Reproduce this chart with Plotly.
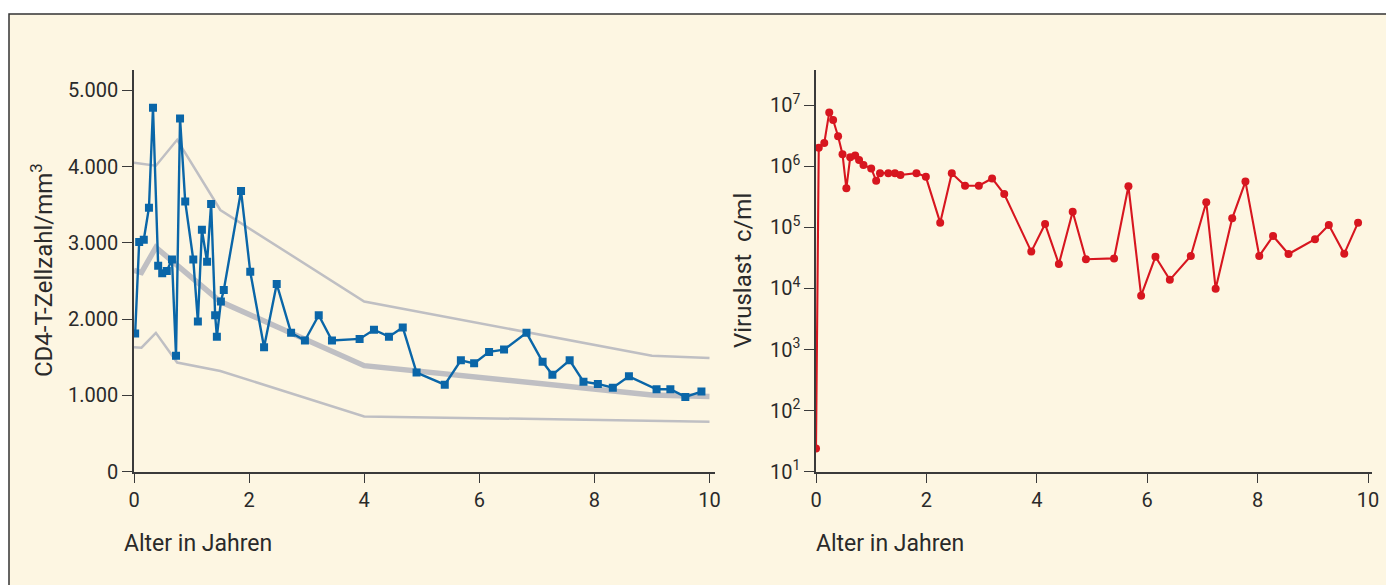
import plotly.graph_objects as go

# ---------------- data ----------------
ages_cd4 = [0.02, 0.09, 0.17, 0.26, 0.33, 0.42, 0.49, 0.57, 0.66, 0.73, 0.80, 0.89, 1.03, 1.11, 1.18,
            1.27, 1.34, 1.41, 1.44, 1.51, 1.56, 1.86, 2.02, 2.26, 2.48, 2.73, 2.97, 3.21, 3.44, 3.92,
            4.17, 4.43, 4.67, 4.91, 5.40, 5.68, 5.91, 6.17, 6.43, 6.82, 7.10, 7.27, 7.57, 7.81, 8.06,
            8.32, 8.60, 9.08, 9.32, 9.58, 9.86]
cd4 = [1810, 3010, 3040, 3460, 4770, 2700, 2600, 2630, 2780, 1520, 4630, 3540, 2780, 1970, 3170,
       2750, 3510, 2050, 1770, 2230, 2380, 3680, 2620, 1630, 2460, 1820, 1720, 2050, 1720, 1740,
       1860, 1770, 1890, 1300, 1140, 1460, 1420, 1570, 1600, 1820, 1440, 1270, 1460, 1180, 1150,
       1100, 1250, 1080, 1080, 980, 1050]

ages_upper = [0, 0.38, 0.75, 1.5, 4.0, 9.0, 10]
cd4_upper = [4050, 4010, 4350, 3430, 2230, 1520, 1490]
ages_median = [0, 0.13, 0.38, 1.5, 4.0, 9.0, 10]
cd4_median = [2640, 2610, 2940, 2230, 1390, 1005, 985]
ages_lower = [0, 0.13, 0.38, 0.75, 1.5, 4.0, 10]
cd4_lower = [1630, 1625, 1820, 1430, 1320, 725, 655]

ages_vl = [0, 0.05, 0.15, 0.24, 0.31, 0.40, 0.48, 0.55, 0.62, 0.71, 0.78, 0.86, 1.0, 1.09, 1.16,
           1.31, 1.43, 1.53, 1.82, 1.99, 2.25, 2.46, 2.70, 2.95, 3.19, 3.41, 3.90, 4.15, 4.40, 4.65,
           4.89, 5.40, 5.66, 5.89, 6.15, 6.41, 6.79, 7.07, 7.24, 7.54, 7.78, 8.03, 8.28, 8.56, 9.04,
           9.29, 9.57, 9.82]
viral_load = [24, 2.0e6, 2.4e6, 7.6e6, 5.7e6, 3.1e6, 1.57e6, 4.35e5, 1.4e6, 1.49e6, 1.26e6, 1.05e6,
              9.2e5, 5.8e5, 7.7e5, 7.7e5, 7.7e5, 7.2e5, 7.7e5, 6.7e5, 1.19e5, 7.7e5, 4.8e5, 4.8e5,
              6.3e5, 3.5e5, 4.0e4, 1.13e5, 2.5e4, 1.8e5, 3.0e4, 3.1e4, 4.7e5, 7.6e3, 3.3e4, 1.38e4,
              3.4e4, 2.57e5, 9.9e3, 1.4e5, 5.6e5, 3.4e4, 7.2e4, 3.65e4, 6.4e4, 1.09e5, 3.7e4, 1.19e5]

x_ticks = [0, 2, 4, 6, 8, 10]
cd4_ticks = [0, 1000, 2000, 3000, 4000, 5000]
cd4_ticklabels = ["0", "1.000", "2.000", "3.000", "4.000", "5.000"]
vl_ticks = [1e1, 1e2, 1e3, 1e4, 1e5, 1e6, 1e7]
vl_ticklabels = ["10<sup>1</sup>", "10<sup>2</sup>", "10<sup>3</sup>", "10<sup>4</sup>",
                 "10<sup>5</sup>", "10<sup>6</sup>", "10<sup>7</sup>"]

# ---------------- styling ----------------
OFF = 8                       # default page body margin
W, H = 1394 - OFF, 585 - OFF
BG = "#fdf6e2"
AX = "#3a3a3a"
TXT = "#2a2a2a"
GREY = "#bfbfc3"
BLUE = "#0a66a8"
RED = "#d7161f"
FONT = "Roboto"


def px_x(p):
    return (p - OFF) / W


def px_y(p):
    return 1 - (p - OFF) / H


fig = go.Figure()

for ax_, ay_, w in [(ages_upper, cd4_upper, 2.5), (ages_lower, cd4_lower, 2.5), (ages_median, cd4_median, 5.5)]:
    fig.add_trace(go.Scatter(x=ax_, y=ay_, mode="lines", line=dict(color=GREY, width=w),
                             xaxis="x", yaxis="y", showlegend=False, hoverinfo="skip"))

fig.add_trace(go.Scatter(x=ages_cd4, y=cd4, mode="lines+markers",
                         line=dict(color=BLUE, width=2.4),
                         marker=dict(symbol="square", size=8, color=BLUE),
                         xaxis="x", yaxis="y", showlegend=False))

fig.add_trace(go.Scatter(x=ages_vl, y=viral_load, mode="lines+markers",
                         line=dict(color=RED, width=2.1),
                         marker=dict(symbol="circle", size=8, color=RED),
                         xaxis="x2", yaxis="y2", showlegend=False))

axis_common = dict(showgrid=False, zeroline=False, showline=True, linecolor=AX, linewidth=1.5,
                   ticks="outside", ticklen=10, tickwidth=1.3, tickcolor=AX,
                   tickfont=dict(family=FONT, size=20, color=TXT), automargin=False)

left_x0, left_x1 = 134, 715
right_x0, right_x1 = 816, 1372
y_bot, y_top = 471.7, 70

fig.update_layout(
    width=W, height=H,
    margin=dict(l=0, r=0, t=0, b=0),
    paper_bgcolor="white",
    plot_bgcolor="rgba(0,0,0,0)",
    xaxis=dict(domain=[px_x(left_x0), px_x(left_x1)], range=[0, (left_x1 - left_x0) / 57.55],
               tickvals=x_ticks, anchor="y", **axis_common),
    yaxis=dict(domain=[px_y(y_bot), px_y(y_top)], range=[0, (y_bot - y_top) / 0.0763],
               tickvals=cd4_ticks, ticktext=cd4_ticklabels, anchor="x", **axis_common),
    xaxis2=dict(domain=[px_x(right_x0), px_x(right_x1)], range=[0, (right_x1 - right_x0) / 55.2],
                tickvals=x_ticks, anchor="y2", **axis_common),
    yaxis2=dict(domain=[px_y(y_bot), px_y(y_top)], type="log", range=[1, 1 + (y_bot - y_top) / 61.1],
                tickvals=vl_ticks, ticktext=vl_ticklabels, anchor="x2", **axis_common),
    shapes=[dict(type="rect", xref="paper", yref="paper",
                 x0=px_x(9), x1=px_x(1392), y0=-0.1, y1=px_y(14),
                 line=dict(color="#333333", width=1.5), fillcolor=BG, layer="below")],
    annotations=[
        dict(text="Alter in Jahren", xref="paper", yref="paper", x=px_x(122), y=px_y(543),
             xanchor="left", yanchor="middle", showarrow=False,
             font=dict(family=FONT, size=23, color=TXT)),
        dict(text="Alter in Jahren", xref="paper", yref="paper", x=px_x(814), y=px_y(543),
             xanchor="left", yanchor="middle", showarrow=False,
             font=dict(family=FONT, size=23, color=TXT)),
        dict(text="CD4-T-Zellzahl/mm<sup>3</sup>", xref="paper", yref="paper", x=px_x(42), y=px_y(270),
             xanchor="center", yanchor="middle", showarrow=False, textangle=-90,
             font=dict(family=FONT, size=24, color=TXT)),
        dict(text="Viruslast\u00a0\u00a0c/ml", xref="paper", yref="paper", x=px_x(743), y=px_y(271),
             xanchor="center", yanchor="middle", showarrow=False, textangle=-90,
             font=dict(family=FONT, size=24, color=TXT)),
    ],
)

fig.write_html("out.html")
